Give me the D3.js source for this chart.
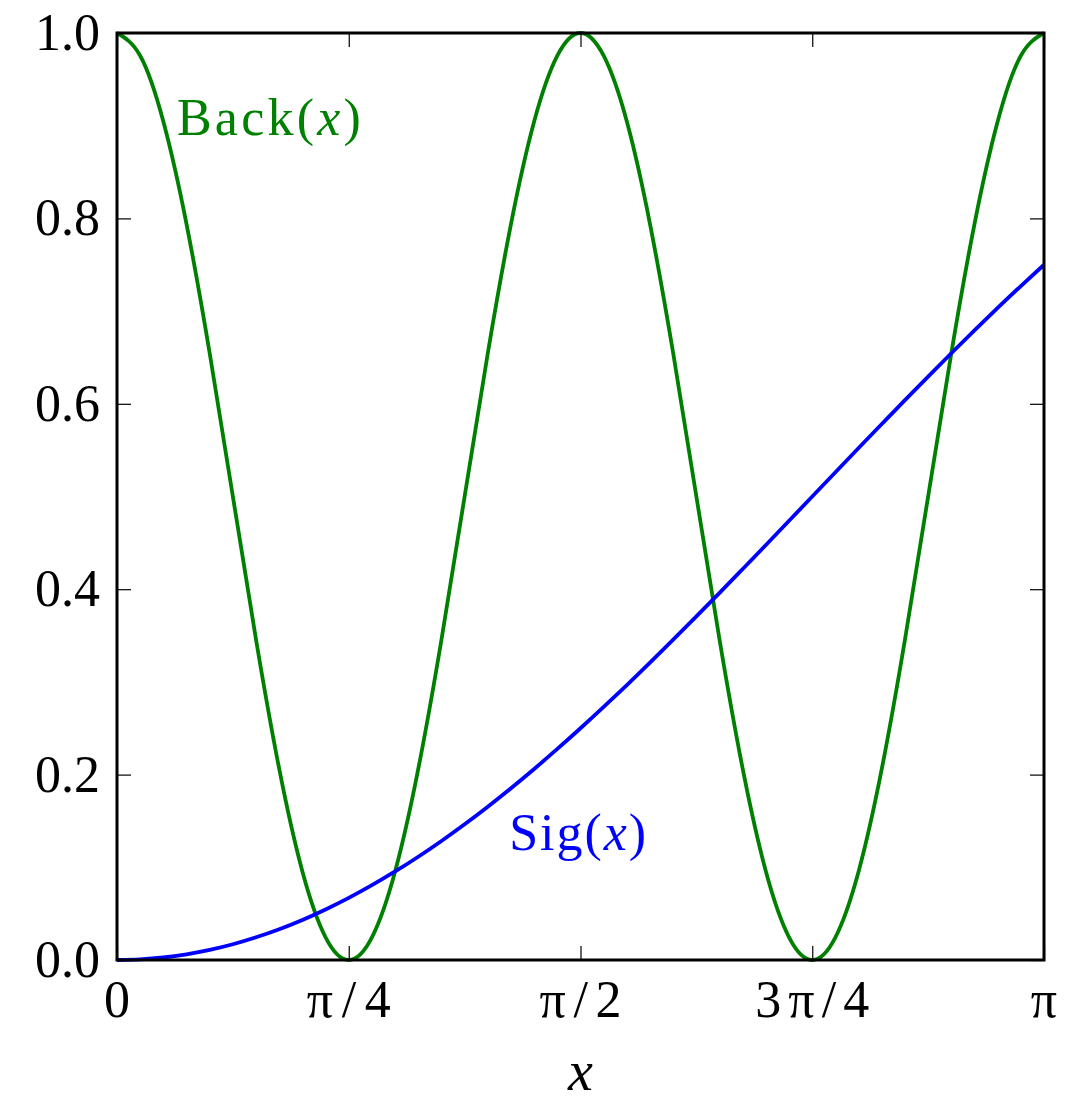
<!DOCTYPE html>
<html>
<head>
    <meta charset="utf-8">
    <title>Back and Sig</title>
    <script type="text/javascript" src="https://cdn.jsdelivr.net/npm/d3@7"></script>
    <style type="text/css">
        html, body { margin: 0; background: #fff; }
        svg { display: block; }
        text { font-family: "Liberation Serif", "Times New Roman", serif; }
        .tick line { stroke: #000; stroke-width: 1.2; }
        .domain { display: none; }
    </style>
</head>
<body>
<script type="text/javascript">
    var w = 1080, h = 1101;
    var margin = {left: 117, right: 36, top: 33, bottom: 141};

    // samples at x = k*pi/40, k = 0..40
    var backValues = [
        1.0000, 0.9755, 0.9045, 0.7939, 0.6545, 0.5000, 0.3455, 0.2061, 0.0955, 0.0245,
        0.0000, 0.0245, 0.0955, 0.2061, 0.3455, 0.5000, 0.6545, 0.7939, 0.9045, 0.9755,
        1.0000, 0.9755, 0.9045, 0.7939, 0.6545, 0.5000, 0.3455, 0.2061, 0.0955, 0.0245,
        0.0000, 0.0245, 0.0955, 0.2061, 0.3455, 0.5000, 0.6545, 0.7939, 0.9045, 0.9755,
        1.0000
    ];
    var sigValues = [
        0.0000, 0.0007, 0.0027, 0.0062, 0.0109, 0.0170, 0.0245, 0.0332, 0.0432, 0.0545,
        0.0670, 0.0807, 0.0955, 0.1114, 0.1284, 0.1464, 0.1654, 0.1853, 0.2061, 0.2277,
        0.2500, 0.2730, 0.2966, 0.3208, 0.3455, 0.3706, 0.3960, 0.4218, 0.4477, 0.4738,
        0.5000, 0.5262, 0.5523, 0.5782, 0.6040, 0.6294, 0.6545, 0.6792, 0.7034, 0.7270,
        0.7500
    ];
    var xTickValues = [0, Math.PI / 4, Math.PI / 2, 3 * Math.PI / 4, Math.PI];
    var xTickLabels = ["0", "π/4", "π/2", "3π/4", "π"];
    var yTickValues = [0, 0.2, 0.4, 0.6, 0.8, 1.0];

    var step = Math.PI / 40;

    var svg = d3.select("body").append("svg")
        .attr("width", w)
        .attr("height", h);

    var x = d3.scaleLinear().domain([0, Math.PI]).range([margin.left, w - margin.right]);
    var y = d3.scaleLinear().domain([0, 1]).range([h - margin.bottom, margin.top]);

    var line = d3.line()
        .x(function (d, i) { return x(i * step); })
        .y(function (d) { return y(d); })
        .curve(d3.curveNatural);

    // curves
    svg.append("path").datum(backValues)
        .attr("d", line)
        .attr("fill", "none")
        .attr("stroke", "#008000")
        .attr("stroke-width", 3.8);

    svg.append("path").datum(sigValues)
        .attr("d", line)
        .attr("fill", "none")
        .attr("stroke", "#0000ff")
        .attr("stroke-width", 3.8);

    // inward ticks on all four sides
    var tick = 14;
    svg.append("g")
        .attr("transform", "translate(0," + y(0) + ")")
        .call(d3.axisBottom(x).tickValues(xTickValues).tickSize(-tick).tickFormat(""));
    svg.append("g")
        .attr("transform", "translate(0," + y(1) + ")")
        .call(d3.axisTop(x).tickValues(xTickValues).tickSize(-tick).tickFormat(""));
    svg.append("g")
        .attr("transform", "translate(" + x(0) + ",0)")
        .call(d3.axisLeft(y).tickValues(yTickValues).tickSize(-tick).tickFormat(""));
    svg.append("g")
        .attr("transform", "translate(" + x(Math.PI) + ",0)")
        .call(d3.axisRight(y).tickValues(yTickValues).tickSize(-tick).tickFormat(""));

    // frame
    svg.append("rect")
        .attr("x", x(0)).attr("y", y(1))
        .attr("width", x(Math.PI) - x(0))
        .attr("height", y(0) - y(1))
        .attr("fill", "none")
        .attr("stroke", "#000")
        .attr("stroke-width", 3);

    // tick labels
    svg.selectAll(".ylab").data(yTickValues).enter().append("text")
        .attr("class", "ylab")
        .attr("x", x(0) - 17)
        .attr("y", function (d) { return y(d) + 17; })
        .attr("text-anchor", "end")
        .attr("font-size", 52)
        .text(function (d) { return d.toFixed(1); });

    // CM glyphs are wider than Times, stretch the spacing a bit
    var xLabWidth = {"π/4": 84, "π/2": 82, "3π/4": 114};
    svg.selectAll(".xlab").data(xTickValues).enter().append("text")
        .attr("class", "xlab")
        .attr("x", function (d) { return x(d); })
        .attr("y", y(0) + 57)
        .attr("text-anchor", "middle")
        .attr("font-size", 52)
        .each(function (d, i) {
            var s = xTickLabels[i];
            if (xLabWidth[s]) {
                d3.select(this)
                    .attr("textLength", xLabWidth[s])
                    .attr("lengthAdjust", "spacing");
            }
        })
        .text(function (d, i) { return xTickLabels[i]; });

    svg.append("text")
        .attr("x", x(Math.PI / 2))
        .attr("y", y(0) + 130)
        .attr("text-anchor", "middle")
        .attr("font-size", 56)
        .attr("font-style", "italic")
        .text("x");

    // curve labels
    function label(tx, ty, name, color, len) {
        var t = svg.append("text")
            .attr("x", x(tx))
            .attr("y", y(ty))
            .attr("font-size", 52)
            .attr("fill", color)
            .attr("textLength", len)
            .attr("lengthAdjust", "spacing");
        t.append("tspan").text(name + "(");
        t.append("tspan").attr("font-style", "italic").text("x");
        t.append("tspan").text(")");
    }
    label(0.203, 0.89, "Back", "#008000", 184);
    label(1.329, 0.119, "Sig", "#0000ff", 137);
</script>
</body>
</html>
